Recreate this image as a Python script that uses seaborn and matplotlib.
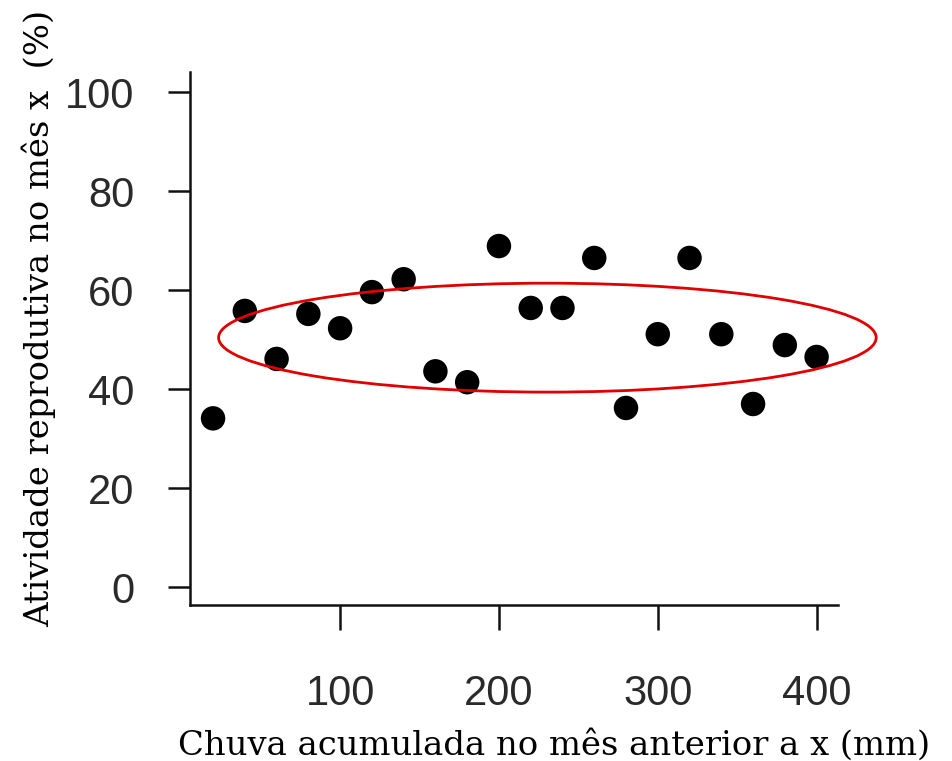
import numpy as np
import pandas as pd
import matplotlib
matplotlib.use("Agg")
import matplotlib.pyplot as plt
from matplotlib.patches import Ellipse
import seaborn as sns

# chuva acumulada (mm) e atividade reprodutiva (%)
chuva = [20, 40, 60, 80, 100, 120, 140, 160, 180, 200,
         220, 240, 260, 280, 300, 320, 340, 360, 380, 400]
atividade = [34.1, 55.8, 46.1, 55.2, 52.3, 59.6, 62.2, 43.6, 41.4, 68.9,
             56.4, 56.4, 66.5, 36.2, 51.1, 66.5, 51.1, 37.0, 48.9, 46.5]
xticks = [100, 200, 300, 400]
yticks = [0, 20, 40, 60, 80, 100]

df = pd.DataFrame({"chuva": chuva, "atividade": atividade})

sns.set_style("ticks")
plt.rcParams["font.family"] = ["Liberation Sans", "DejaVu Sans"]

fig = plt.figure(figsize=(9.52, 7.61), dpi=100)
ax = fig.add_axes([0.1996, 0.205, 0.6807, 0.700])

sns.scatterplot(data=df, x="chuva", y="atividade", ax=ax, color="black",
                s=310, edgecolor="none", linewidth=0)

# elipse destacando a faixa
ax.add_patch(Ellipse((230.5, 50.4), 414, 22, fill=False,
                     edgecolor="#e00000", linewidth=2.0, clip_on=False))

ax.set_xlim(5.5, 413.5)
ax.set_ylim(-3.6, 104)
ax.set_xticks(xticks)
ax.set_yticks(yticks)
for s in ["top", "right"]:
    ax.spines[s].set_visible(False)
for s in ["left", "bottom"]:
    ax.spines[s].set_linewidth(1.8)
    ax.spines[s].set_color("#111111")

ax.tick_params(axis="y", length=16, width=1.8, pad=24, labelsize=30,
               labelcolor="#2a2a2a", color="#111111")
ax.tick_params(axis="x", length=18, width=1.8, pad=32, labelsize=30,
               labelcolor="#2a2a2a", color="#111111")

ax.set_xlabel("")
ax.set_ylabel("")
fig.text(0.582, 0.021, "Chuva acumulada no mês anterior a x (mm)",
         family="DejaVu Serif", fontsize=24.4, ha="center", va="center",
         color="black")
fig.text(0.041, 0.582, "Atividade reprodutiva no mês x  (%)",
         family="DejaVu Serif", fontsize=24.4, ha="center", va="center",
         rotation=90, color="black")

fig.savefig("out.png", dpi=100)
